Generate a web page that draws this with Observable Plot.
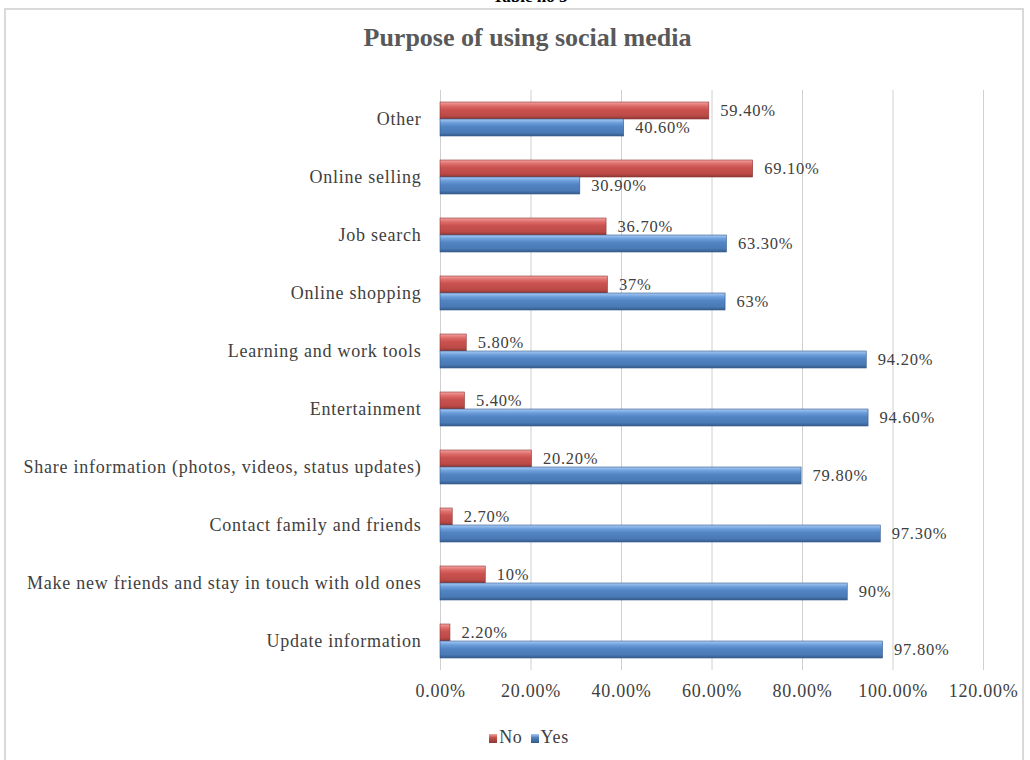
<!DOCTYPE html>
<html>
<head>
<meta charset="utf-8">
<script src="https://cdn.jsdelivr.net/npm/d3@7"></script>
<script src="https://cdn.jsdelivr.net/npm/@observablehq/plot@0.6"></script>
<style>
  html, body { margin: 0; padding: 0; background: #fff; overflow: hidden; }
  body { width: 1030px; height: 760px; position: relative; font-family: "Liberation Serif", "Times New Roman", serif; }
  #frame { position: absolute; left: 4px; top: 8px; width: 1020px; height: 800px; border: 2px solid #d9d9d9; box-sizing: border-box; }
  #table { position: absolute; top: -13px; left: 0; width: 1060px; text-align: center; font-weight: bold; font-size: 17px; color: #000; }
  #title { position: absolute; top: 25px; left: 0; width: 1055px; text-align: center; font-weight: bold; font-size: 26px; line-height: 26px; color: #595959; }
  #chart { position: absolute; top: 80px; left: 0; }
  #legend { position: absolute; top: 727px; left: 0; width: 1058px; text-align: center; font-size: 18px; letter-spacing: 0.7px; color: #404040; }
  #legend span.sw { display: inline-block; width: 8px; height: 9px; margin-right: 2px; vertical-align: 0px; }
  #legend span.item { margin: 0 4px; }
</style>
</head>
<body>
<div id="frame"></div>
<div id="table">Table no 5</div>
<div id="title">Purpose of using social media</div>
<div id="chart"></div>
<div id="legend"></div>
<script>
const categories = [
  "Other",
  "Online selling",
  "Job search",
  "Online shopping",
  "Learning and work tools",
  "Entertainment",
  "Share information (photos, videos, status updates)",
  "Contact family and friends",
  "Make new friends and stay in touch with old ones",
  "Update information"
];
const noValues  = [59.4, 69.1, 36.7, 37, 5.8, 5.4, 20.2, 2.7, 10, 2.2];
const yesValues = [40.6, 30.9, 63.3, 63, 94.2, 94.6, 79.8, 97.3, 90, 97.8];
const seriesNames = ["No", "Yes"];
const xTicks = [0, 20, 40, 60, 80, 100, 120];

const rows = categories.flatMap((c, i) => [
  {category: c, series: "No", value: noValues[i]},
  {category: c, series: "Yes", value: yesValues[i]}
]);
const fmt = v => Number.isInteger(v) ? v + "%" : v.toFixed(2) + "%";

const plot = Plot.plot({
  width: 1030,
  height: 620,
  marginLeft: 440,
  marginRight: 47,
  marginTop: 8,
  marginBottom: 28,
  style: {fontFamily: "'Liberation Serif', 'Times New Roman', serif", fontSize: "18px", letterSpacing: "0.75px", color: "#404040", background: "transparent", overflow: "visible"},
  x: {domain: [0, 120], ticks: xTicks, tickFormat: t => t.toFixed(2) + "%", grid: true, tickSize: 0, tickPadding: 14, label: null},
  fy: {domain: categories, padding: 0, label: null, tickSize: 0, tickPadding: 19},
  y: {domain: seriesNames, paddingInner: 0, paddingOuter: 0.62, axis: null},
  marks: [
    Plot.barX(rows.filter(d => d.series === "No"), {fy: "category", y: "series", x: "value", fill: "url(#gNo)", stroke: "#8c3836", strokeWidth: 0.6}),
    Plot.barX(rows.filter(d => d.series === "Yes"), {fy: "category", y: "series", x: "value", fill: "url(#gYes)", stroke: "#355c8c", strokeWidth: 0.6}),
    Plot.text(rows, {fy: "category", y: "series", x: "value", text: d => fmt(d.value), textAnchor: "start", dx: 11, fill: "#404040", fontSize: 16.5})
  ]
});

const svg = d3.select(plot);
svg.selectAll("[aria-label='x-grid'] line, [aria-label='x-grid']").attr("stroke", "#d0d0d0").attr("stroke-opacity", 1);
const defs = svg.insert("defs", ":first-child");
function grad(id, stops) {
  const g = defs.append("linearGradient").attr("id", id).attr("x1", 0).attr("y1", 0).attr("x2", 0).attr("y2", 1);
  stops.forEach(([o, c]) => g.append("stop").attr("offset", o).attr("stop-color", c));
}
grad("gNo", [[0, "#f2a3a1"], [0.22, "#de6d6a"], [0.45, "#c9524f"], [0.8, "#bd4a47"], [1, "#8c3836"]]);
grad("gYes", [[0, "#a9cbf2"], [0.22, "#6d9fdc"], [0.45, "#5284c4"], [0.8, "#4a7ab6"], [1, "#355c8c"]]);
document.getElementById("chart").appendChild(plot);

const legend = document.getElementById("legend");
legend.innerHTML = seriesNames.map((s, i) => {
  const bg = i === 0 ? "linear-gradient(#f2a3a1,#c0504d 40%,#8c3836)" : "linear-gradient(#a9cbf2,#4f81bd 40%,#355c8c)";
  return '<span class="item"><span class="sw" style="background:' + bg + '"></span>' + s + '</span>';
}).join("");
</script>
</body>
</html>
